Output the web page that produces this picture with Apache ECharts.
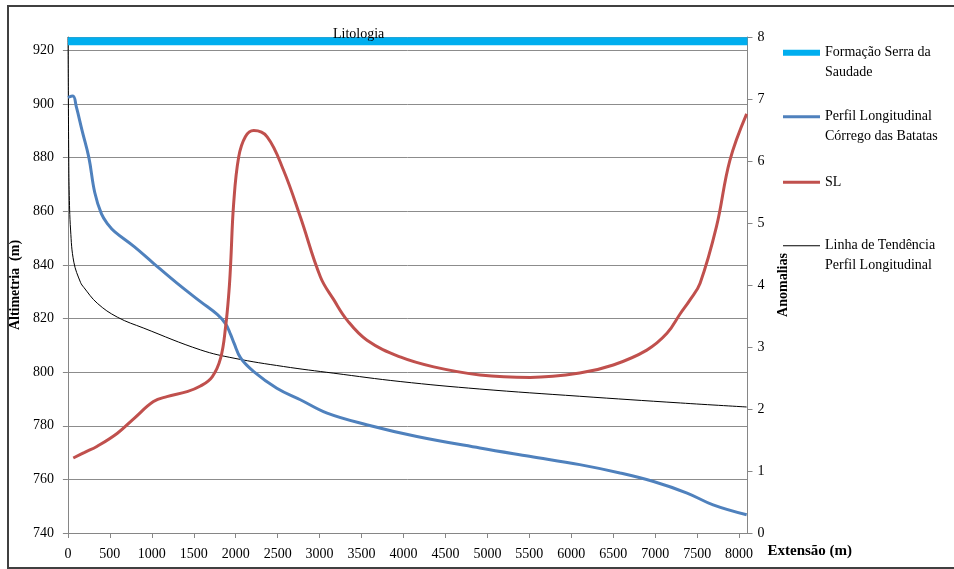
<!DOCTYPE html>
<html>
<head>
<meta charset="utf-8">
<script src="https://cdn.jsdelivr.net/npm/echarts@6/dist/echarts.min.js"></script>
<style>
html,body{margin:0;padding:0;background:#fff;}
#chart{width:954px;height:569px;}
</style>
</head>
<body>
<div id="chart"></div>
<script>
// ---- Data ----
const xTicks = [0,500,1000,1500,2000,2500,3000,3500,4000,4500,5000,5500,6000,6500,7000,7500,8000];
const leftTicks = [740,760,780,800,820,840,860,880,900,920];
const rightTicks = [0,1,2,3,4,5,6,7,8];

const litologiaX = [0, 8100];
const litologiaY = [7.93, 7.93];

const perfilX = [0,60,100,170,250,320,400,480,560,790,1020,1300,1580,1780,1880,1940,1980,2060,2215,2490,2770,3090,3560,4160,4910,5500,6100,6580,6980,7380,7690,8090];
const perfilY = [902.5,903,899,890,880,867,859,855,852.3,846.8,840.6,833.2,826.3,821.5,818,814,810.8,805.2,800.2,794,789.7,784.7,780.4,776,771.7,768.6,765.5,762.4,759.2,754.9,750.5,746.8];

const slX = [64,200,350,590,790,1020,1180,1420,1580,1720,1820,1880,1920,1940,1975,2035,2115,2215,2375,2570,2770,3010,3170,3330,3565,3960,4360,4910,5510,6100,6500,6900,7140,7300,7415,7535,7730,7890,8090];
const slY = [1.21,1.3,1.4,1.61,1.85,2.12,2.2,2.28,2.37,2.52,2.82,3.33,3.9,4.35,5.3,6.06,6.39,6.49,6.39,5.85,5.1,4.13,3.76,3.43,3.11,2.84,2.68,2.55,2.51,2.58,2.71,2.95,3.22,3.54,3.76,4.03,4.94,6.01,6.76];

const trendX = [2,5,10,15,32,71,150,190,350,590,905,1580,1980,2570,3170,3960,4910,6100,7300,8090];
const trendY = [925,905,880,868,853,841,833.5,831.6,825.7,820.5,816.4,808.3,805.2,802.1,799.6,796.5,793.7,791,788.5,787];

const names = {
  lit: 'Formação Serra da Saudade',
  perfil: 'Perfil Longitudinal Córrego das Batatas',
  sl: 'SL',
  trend: 'Linha de Tendência Perfil Longitudinal'
};
const legendText = {};
legendText[names.lit] = ' \nFormação Serra da\nSaudade';
legendText[names.perfil] = ' \nPerfil Longitudinal\nCórrego das Batatas';
legendText[names.sl] = 'SL';
legendText[names.trend] = ' \nLinha de Tendência\nPerfil Longitudinal';

function zip(xs, ys){ return xs.map((x,i)=>[x, ys[i]]); }

const FONT = 'Liberation Serif';
const C = {lit:'#00AEEF', perfil:'#4F81BD', sl:'#C0504D', trend:'#000000'};

function mkLegend(name, top, itemH){
  return {
    data:[name], orient:'vertical', left:783, top:top, padding:0,
    icon:'rect', itemWidth:37, itemHeight:itemH, itemGap:0,
    formatter: n => legendText[n],
    textStyle:{fontFamily:FONT, fontSize:14, color:'#000', lineHeight:19.5},
    selectedMode:false
  };
}

const chart = echarts.init(document.getElementById('chart'));
chart.setOption({
  animation:false,
  backgroundColor:'#fff',
  title:{text:'Litologia', left:333, top:27, padding:0,
    textStyle:{fontFamily:FONT, fontSize:14, fontWeight:'normal', color:'#000'}},
  graphic:[{type:'rect', shape:{x:8,y:6,width:960,height:562}, style:{fill:'none', stroke:'#404040', lineWidth:2}, z:100}],
  legend:[
    mkLegend(names.lit, 23.5, 6),
    mkLegend(names.perfil, 87.5, 3),
    mkLegend(names.sl, 172.5, 3),
    mkLegend(names.trend, 216.5, 1)
  ],
  grid:{left:67, right:206.5, top:37, bottom:36, containLabel:false},
  xAxis:{
    type:'value', min:0, max:8100, interval:500,
    name:'Extensão (m)', nameLocation:'end', nameGap:20,
    nameTextStyle:{fontFamily:FONT, fontSize:15, fontWeight:'bold', color:'#000', verticalAlign:'top', padding:[11,0,0,0]},
    axisLine:{show:true, lineStyle:{color:'#868686'}},
    axisTick:{show:true, length:5, lineStyle:{color:'#868686'}},
    axisLabel:{fontFamily:FONT, fontSize:14, color:'#000', margin:14, showMaxLabel:false,
      formatter: v => xTicks.indexOf(v) >= 0 ? String(v) : ''},
    splitLine:{show:false}
  },
  yAxis:[{
    type:'value', min:740, max:925, interval:20, position:'left',
    name:'Altimetria  (m)', nameLocation:'middle', nameGap:41, nameRotate:90,
    nameTextStyle:{fontFamily:FONT, fontSize:14, fontWeight:'bold', color:'#000'},
    axisLine:{show:true, lineStyle:{color:'#868686'}},
    axisTick:{show:true, length:5, lineStyle:{color:'#868686'}},
    axisLabel:{fontFamily:FONT, fontSize:14, color:'#000', margin:14, showMaxLabel:false,
      formatter: v => leftTicks.indexOf(v) >= 0 ? String(v) : ''},
    splitLine:{show:true, lineStyle:{color:'#8c8c8c', width:1}}
  },{
    type:'value', min:0, max:8, interval:1, position:'right',
    name:'Anomalias', nameLocation:'middle', nameGap:29, nameRotate:90,
    nameTextStyle:{fontFamily:FONT, fontSize:14, fontWeight:'bold', color:'#000'},
    axisLine:{show:true, lineStyle:{color:'#868686'}},
    axisTick:{show:true, length:5, lineStyle:{color:'#868686'}},
    axisLabel:{fontFamily:FONT, fontSize:14, color:'#000', margin:10,
      formatter: v => rightTicks.indexOf(v) >= 0 ? String(v) : ''},
    splitLine:{show:false}
  }],
  series:[
    {name:names.lit, type:'line', yAxisIndex:1, data:zip(litologiaX, litologiaY),
     showSymbol:false, symbol:'none', lineStyle:{color:C.lit, width:8, cap:'butt'}, itemStyle:{color:C.lit}, z:3},
    {name:names.trend, type:'line', yAxisIndex:0, data:zip(trendX, trendY),
     showSymbol:false, symbol:'none', smooth:0.4,
     lineStyle:{color:C.trend, width:1}, itemStyle:{color:C.trend}, z:2},
    {name:names.perfil, type:'line', yAxisIndex:0, data:zip(perfilX, perfilY),
     showSymbol:false, symbol:'none', smooth:0.4,
     lineStyle:{color:C.perfil, width:3}, itemStyle:{color:C.perfil}, z:4},
    {name:names.sl, type:'line', yAxisIndex:1, data:zip(slX, slY),
     showSymbol:false, symbol:'none', smooth:0.4,
     lineStyle:{color:C.sl, width:3}, itemStyle:{color:C.sl}, z:5}
  ]
});
</script>
</body>
</html>
